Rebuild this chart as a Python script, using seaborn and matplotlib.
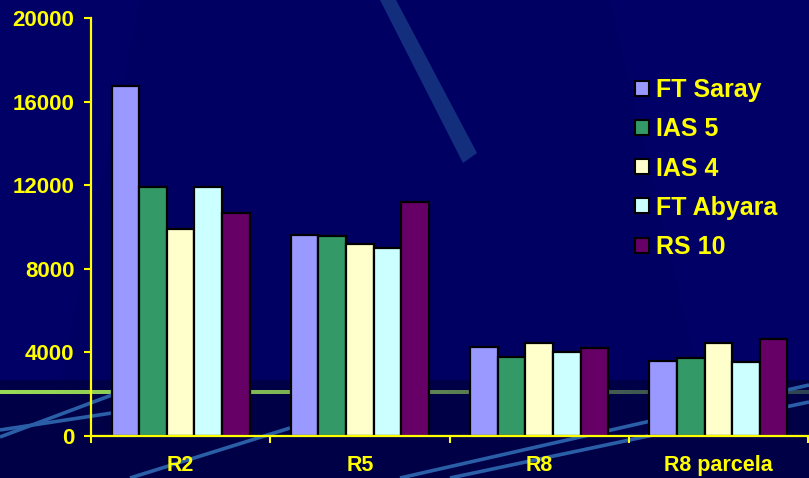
import numpy as np
import pandas as pd
import matplotlib
matplotlib.use("Agg")
import matplotlib.pyplot as plt
from matplotlib.patches import Patch, Polygon
from matplotlib.colors import LinearSegmentedColormap
import seaborn as sns

# Data
rodadas = ["R2", "R5", "R8", "R8 parcela"]
series = ["FT Saray", "IAS 5", "IAS 4", "FT Abyara", "RS 10"]
ft_saray = [16750, 9640, 4280, 3610]
ias5 = [11900, 9560, 3800, 3710]
ias4 = [9900, 9180, 4450, 4450]
ft_abyara = [11900, 8990, 4000, 3530]
rs10 = [10650, 11190, 4190, 4640]
yticks = [0, 4000, 8000, 12000, 16000, 20000]

colors = ["#9999FF", "#339966", "#FFFFCC", "#CCFFFF", "#660066"]
yellow = "#FFFF00"

values = [ft_saray, ias5, ias4, ft_abyara, rs10]
df = pd.DataFrame(
    [(r, s, v) for s, vals in zip(series, values) for r, v in zip(rodadas, vals)],
    columns=["rodada", "serie", "valor"],
)

plt.rcParams["font.family"] = ["Liberation Sans", "DejaVu Sans"]

W, H = 809, 478
fig = plt.figure(figsize=(W / 100, H / 100), dpi=100)
fig.patch.set_facecolor("#000066")

# Slide background decorations (pixel coordinates, y downwards)
bg = fig.add_axes([0, 0, 1, 1], zorder=0)
bg.set_xlim(0, W)
bg.set_ylim(H, 0)
bg.axis("off")
bg.add_patch(Polygon([(140, 0), (610, 0), (700, 380), (60, 380)], closed=True,
                     facecolor="#000062", edgecolor="none"))
bg.add_patch(Polygon([(0, 380), (W, 380), (W, H), (0, H)], closed=True,
                     facecolor="#000046", edgecolor="none"))
bg.add_patch(Polygon([(380, 0), (396, 0), (477, 153), (463, 163)], closed=True,
                     facecolor="#1A3A86", edgecolor="none", alpha=0.8))
# green horizon stripe, fading towards the right
grad = np.linspace(0, 1, 256)[None, :]
stripe = LinearSegmentedColormap.from_list(
    "stripe", ["#99DD55", "#7FB855", "#4A6650", "#2E4455"])
bg.imshow(grad, cmap=stripe, extent=(0, W, 394, 390), aspect="auto", zorder=1)
for (x0, y0, x1, y1) in [(0, 437, 112, 395), (0, 430, 112, 413),
                         (130, 478, 290, 428), (400, 478, 809, 385),
                         (450, 478, 809, 402)]:
    bg.plot([x0, x1], [y0, y1], color="#2A5FA8", lw=2.6,
            solid_capstyle="butt", zorder=2)

# Chart
ax = fig.add_axes([91 / W, 1 - 436 / H, 717 / W, 418 / H], zorder=1)
ax.patch.set_alpha(0)
sns.barplot(data=df, x="rodada", y="valor", hue="serie", hue_order=series,
            palette=colors, saturation=1, width=0.77, edgecolor="black",
            linewidth=1.6, ax=ax, legend=False, errorbar=None)

ax.set_xlim(-0.5, 3.5)
ax.set_ylim(0, 20000)
ax.set_xlabel("")
ax.set_ylabel("")
for s in ["top", "right"]:
    ax.spines[s].set_visible(False)
for s in ["left", "bottom"]:
    ax.spines[s].set_color(yellow)
    ax.spines[s].set_linewidth(1.6)
    ax.spines[s].set_zorder(5)

ax.set_yticks(yticks)
ax.set_yticklabels([str(v) for v in yticks])
ax.tick_params(axis="y", colors=yellow, length=5, width=1.5, pad=7,
               labelsize=16)
for t in ax.get_yticklabels():
    t.set_fontweight("bold")

ax.set_xticks(np.arange(-0.5, 4, 1.0))
ax.set_xticklabels([])
ax.set_xticks(np.arange(len(rodadas)), minor=True)
ax.set_xticklabels(rodadas, minor=True)
ax.tick_params(axis="x", which="major", colors=yellow, length=5, width=1.5)
ax.tick_params(axis="x", which="minor", length=0, pad=14, labelsize=15.5,
               labelcolor=yellow)
for t in ax.get_xticklabels(minor=True):
    t.set_fontweight("bold")

handles = [Patch(facecolor=c, edgecolor="black", linewidth=1.5) for c in colors]
leg = ax.legend(handles, series, loc="upper left",
                bbox_to_anchor=(635 / W, 1 - 78 / H), bbox_transform=fig.transFigure,
                frameon=False, fontsize=18, borderpad=0, borderaxespad=0,
                handlelength=0.55, handleheight=0.55, handletextpad=0.3,
                labelspacing=0.61)
for t in leg.get_texts():
    t.set_color(yellow)
    t.set_fontweight("bold")

fig.savefig("out.png", dpi=100, facecolor=fig.get_facecolor())
